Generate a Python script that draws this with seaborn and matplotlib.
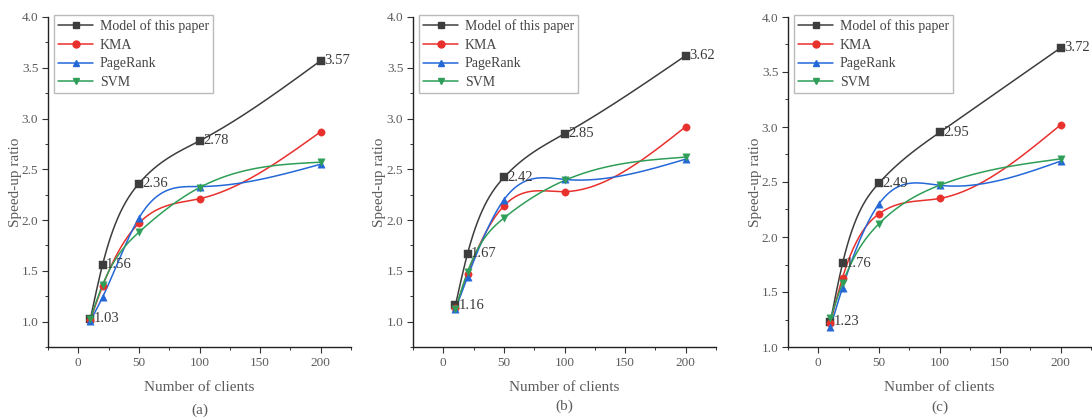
import numpy as np
import pandas as pd
import matplotlib
matplotlib.use("Agg")
import matplotlib.pyplot as plt
from matplotlib.ticker import MultipleLocator
import seaborn as sns

clients = [10, 20, 50, 100, 200]
series_names = ["Model of this paper", "KMA", "PageRank", "SVM"]

model_a = [1.03, 1.56, 2.36, 2.78, 3.57]
kma_a = [1.02, 1.35, 1.97, 2.21, 2.87]
pagerank_a = [1.01, 1.24, 2.02, 2.33, 2.55]
svm_a = [1.03, 1.36, 1.88, 2.32, 2.57]

model_b = [1.16, 1.67, 2.42, 2.85, 3.62]
kma_b = [1.13, 1.47, 2.14, 2.28, 2.92]
pagerank_b = [1.12, 1.44, 2.20, 2.40, 2.60]
svm_b = [1.12, 1.49, 2.02, 2.39, 2.62]

model_c = [1.23, 1.76, 2.49, 2.95, 3.72]
kma_c = [1.22, 1.63, 2.21, 2.35, 3.02]
pagerank_c = [1.18, 1.54, 2.30, 2.47, 2.69]
svm_c = [1.26, 1.58, 2.12, 2.47, 2.71]

panels = [
    ("(a)", [model_a, kma_a, pagerank_a, svm_a], (0.75, 4.0)),
    ("(b)", [model_b, kma_b, pagerank_b, svm_b], (0.75, 4.0)),
    ("(c)", [model_c, kma_c, pagerank_c, svm_c], (1.0, 4.0)),
]

colors = ["#3d3d3d", "#e8302c", "#2468d8", "#2e9e58"]
markers = ["s", "o", "^", "v"]
text_color = "#5c5c5c"

sns.set_theme(style="ticks")
plt.rcParams["font.family"] = ["Liberation Serif", "DejaVu Serif"]


def natural_spline(x, y, n=300):
    x = np.asarray(x, float)
    y = np.asarray(y, float)
    k = len(x)
    h = np.diff(x)
    A = np.zeros((k, k))
    b = np.zeros(k)
    A[0, 0] = 1
    A[-1, -1] = 1
    for i in range(1, k - 1):
        A[i, i - 1] = h[i - 1]
        A[i, i] = 2 * (h[i - 1] + h[i])
        A[i, i + 1] = h[i]
        b[i] = 6 * ((y[i + 1] - y[i]) / h[i] - (y[i] - y[i - 1]) / h[i - 1])
    M = np.linalg.solve(A, b)
    xs = np.linspace(x[0], x[-1], n)
    idx = np.clip(np.searchsorted(x, xs) - 1, 0, k - 2)
    x0, x1 = x[idx], x[idx + 1]
    hh = x1 - x0
    ys = (M[idx] * (x1 - xs) ** 3 / (6 * hh) + M[idx + 1] * (xs - x0) ** 3 / (6 * hh)
          + (y[idx] / hh - M[idx] * hh / 6) * (x1 - xs)
          + (y[idx + 1] / hh - M[idx + 1] * hh / 6) * (xs - x0))
    return xs, ys


fig = plt.figure(figsize=(10.92, 4.19), dpi=100)
lefts = [48, 413, 788]
caption_y = [410, 406, 407]
for p, (cap, data, ylim) in enumerate(panels):
    l = lefts[p] / 1092
    w = 303 / 1092
    ax = fig.add_axes([l, 1 - 347 / 419, w, 330 / 419])
    handles = []
    for s, (name, vals) in enumerate(zip(series_names, data)):
        xs, ys = natural_spline(clients, vals)
        sns.lineplot(x=xs, y=ys, ax=ax, color=colors[s], lw=1.1, zorder=2 + s * 0.1)
        sns.scatterplot(x=clients, y=vals, ax=ax, color=colors[s], marker=markers[s],
                        s=28, edgecolor=colors[s], linewidth=0.3, zorder=3 + s * 0.1)
        handles.append(plt.Line2D([], [], color=colors[s], marker=markers[s], lw=1.1,
                                  markersize=5, label=name))
    for xv, yv in zip(clients, data[0]):
        ax.annotate(f"{yv:.2f}", (xv, yv), xytext=(2.5, 0), textcoords="offset points",
                    ha="left", va="center", fontsize=10.5, color="#3a3a3a", zorder=5)
    ax.set_xlim(-25, 225)
    ax.set_ylim(*ylim)
    ax.xaxis.set_major_locator(MultipleLocator(50))
    ax.xaxis.set_minor_locator(MultipleLocator(25))
    ax.yaxis.set_minor_locator(MultipleLocator(0.25))
    ax.set_yticks(np.arange(1.0, 4.01, 0.5))
    ax.set_yticklabels([f"{v:.1f}" for v in np.arange(1.0, 4.01, 0.5)])
    ax.tick_params(which="major", direction="out", length=4, width=0.8, colors="#333333",
                   labelcolor=text_color, labelsize=9.5, pad=3)
    ax.tick_params(which="minor", direction="out", length=2.5, width=0.7, colors="#333333")
    sns.despine(ax=ax)
    for sp in ["left", "bottom"]:
        ax.spines[sp].set_color("#222222")
        ax.spines[sp].set_linewidth(1.0)
    ax.set_xlabel("Number of clients", fontsize=11, color=text_color)
    ax.xaxis.label.set_va("center")
    ax.xaxis.set_label_coords(0.5, -40 / 330)
    ax.set_ylabel("Speed-up ratio", fontsize=11, color=text_color)
    ax.yaxis.label.set_va("center")
    ax.yaxis.set_label_coords(-33 / 303, 0.5)
    leg = ax.legend(handles=handles, loc="upper left", bbox_to_anchor=(0.02, 1.005),
                    fontsize=10, frameon=True, fancybox=False, framealpha=1,
                    edgecolor="#bbbbbb", handlelength=2.5, handletextpad=0.5,
                    labelspacing=0.4, borderpad=0.3, borderaxespad=0)
    for t in leg.get_texts():
        t.set_color("#444444")
    fig.text((lefts[p] + 151.5) / 1092, 1 - caption_y[p] / 419, cap, ha="center", va="center",
             fontsize=11, color=text_color)

fig.savefig("out.png", dpi=100)
